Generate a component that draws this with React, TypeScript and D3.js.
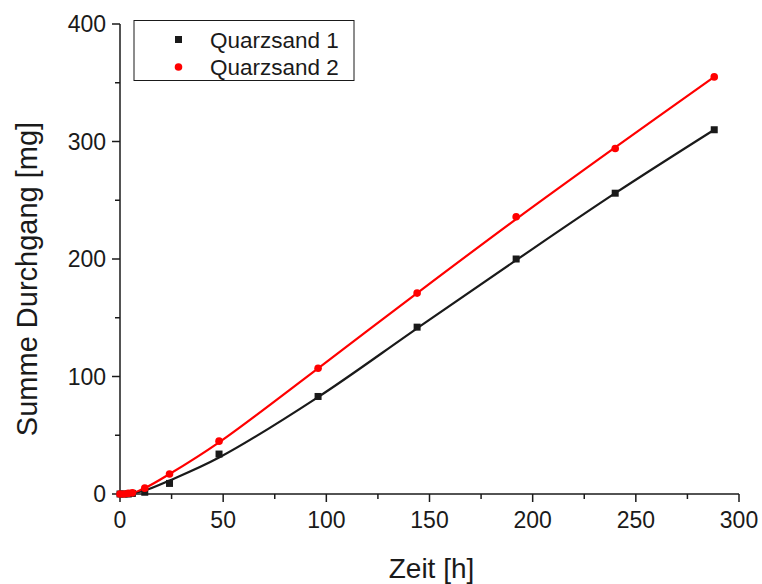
import React from "react";
import * as d3 from "d3";

const times = [0, 2, 4, 6, 12, 24, 48, 96, 144, 192, 240, 288];
const sand1 = [0, 0, 0, 0.5, 1.5, 9, 34, 83, 142, 200, 256, 310];
const sand2 = [0, 0, 0.5, 1, 5, 17, 45, 107, 171, 236, 294, 355];

const fitTimes = [4, 12, 24, 48, 96, 144, 192, 240, 288];
const fit1 = [0, 3, 11.5, 31, 82.5, 141, 199, 256, 310];
const fitTimes2 = [0, 6, 12, 24, 48, 96, 144, 192, 240, 288];
const fit2 = [0, 1, 5, 17, 44, 107, 171, 234, 295, 355];

const xTicks = [0, 50, 100, 150, 200, 250, 300];
const yTicks = [0, 100, 200, 300, 400];
const legendLabels = ["Quarzsand 1", "Quarzsand 2"];

export default function App() {
  const W = 762, H = 584;
  const x = d3.scaleLinear().domain([0, 300]).range([120, 739]);
  const y = d3.scaleLinear().domain([0, 400]).range([494, 24]);
  const font = "'Liberation Sans', Arial, Helvetica, sans-serif";
  const line = d3
    .line<[number, number]>()
    .x((d) => x(d[0]))
    .y((d) => y(d[1]))
    .curve(d3.curveCatmullRom.alpha(0.5));
  const l1 = line(fitTimes.map((t, i) => [t, fit1[i]]) as [number, number][]) || "";
  const l2 = line(fitTimes2.map((t, i) => [t, fit2[i]]) as [number, number][]) || "";
  const xMinor = d3.range(0, 301, 25);
  const yMinor = d3.range(0, 401, 50);
  const black = "#1a1a1a";
  const red = "#ff0000";
  return (
    <svg width={W} height={H} style={{ position: "absolute", left: 0, top: 0 }}>
      <rect width={W} height={H} fill="#fff" />
      {/* axes */}
      <line x1={x(0)} x2={x(0)} y1={y(400)} y2={y(0)} stroke={black} strokeWidth={1.5} />
      <line x1={x(0)} x2={x(300)} y1={y(0)} y2={y(0)} stroke={black} strokeWidth={1.5} />
      {yMinor.map((v) => (
        <line key={"ym" + v} x1={x(0)} x2={x(0) - (v % 100 === 0 ? 8 : 5)} y1={y(v)} y2={y(v)} stroke={black} strokeWidth={1.5} />
      ))}
      {xMinor.map((v) => (
        <line key={"xm" + v} x1={x(v)} x2={x(v)} y1={y(0)} y2={y(0) + (v % 50 === 0 ? 8 : 5)} stroke={black} strokeWidth={1.5} />
      ))}
      {yTicks.map((v) => (
        <text key={"yt" + v} x={x(0) - 14} y={y(v)} dy="0.36em" textAnchor="end" fontFamily={font} fontSize={23} fill={black}>
          {v}
        </text>
      ))}
      {xTicks.map((v) => (
        <text key={"xt" + v} x={x(v)} y={y(0) + 34} textAnchor="middle" fontFamily={font} fontSize={23} fill={black}>
          {v}
        </text>
      ))}
      <text x={x(150) + 2} y={578} textAnchor="middle" fontFamily={font} fontSize={28} fill={black}>
        Zeit [h]
      </text>
      <text transform={`translate(37, ${y(200) + 20}) rotate(-90)`} textAnchor="middle" fontFamily={font} fontSize={29} fill={black}>
        Summe Durchgang [mg]
      </text>
      {/* curves */}
      <path d={l1} fill="none" stroke={black} strokeWidth={2.2} />
      <path d={l2} fill="none" stroke={red} strokeWidth={2.2} />
      {times.map((t, i) => (
        <rect key={"s1" + i} x={x(t) - 3.5} y={y(sand1[i]) - 3.5} width={7} height={7} fill={black} />
      ))}
      {times.map((t, i) => (
        <circle key={"s2" + i} cx={x(t)} cy={y(sand2[i])} r={3.8} fill={red} />
      ))}
      {/* legend */}
      <rect x={134} y={20.5} width={220} height={60} fill="#fff" stroke={black} strokeWidth={1} />
      <rect x={175} y={36} width={7} height={7} fill={black} />
      <text x={210} y={48} fontFamily={font} fontSize={22.5} fill={black}>{legendLabels[0]}</text>
      <circle cx={178.5} cy={67} r={3.8} fill={red} />
      <text x={210} y={75} fontFamily={font} fontSize={22.5} fill={black}>{legendLabels[1]}</text>
    </svg>
  );
}
